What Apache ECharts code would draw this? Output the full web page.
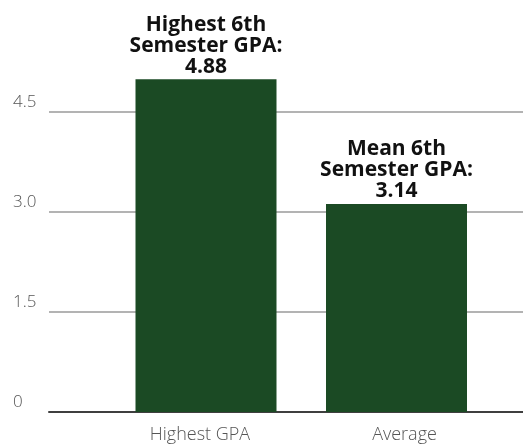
<!DOCTYPE html>
<html>
<head>
<meta charset="utf-8">
<script src="https://cdn.jsdelivr.net/npm/echarts@6/dist/echarts.min.js"></script>
<style>
html,body{margin:0;padding:0;background:#fff;}
#chart{width:523px;height:444px;}
</style>
</head>
<body>
<div id="chart"></div>
<script>
const categories = ['Highest GPA', 'Average'];
const barValues = [4.99, 3.12];
const barLabels = ['Highest 6th\nSemester GPA:\n4.88', 'Mean 6th\nSemester GPA:\n3.14'];
const yMin = 0, yMax = 6, yInterval = 1.5;

const chart = echarts.init(document.getElementById('chart'), null, {renderer: 'canvas'});
chart.setOption({
  animation: false,
  grid: [
    {left: 49, right: 0, top: 12, height: 400},
    {left: 110.75, right: 31.25, top: 12, height: 400}
  ],
  xAxis: [
    {gridIndex: 0, type: 'value', min: 0, max: 1,
      axisLine: {show: true, lineStyle: {color: '#3f3f3f', width: 2}},
      axisTick: {show: false}, axisLabel: {show: false}, splitLine: {show: false}},
    {gridIndex: 1, type: 'category',
      data: [
        {value: categories[0], textStyle: {padding: [0, 12, 0, 0]}},
        {value: categories[1], textStyle: {padding: [0, 0, 0, 16]}}
      ],
      axisLine: {show: false}, axisTick: {show: false},
      axisLabel: {color: '#555555', fontFamily: 'Open Sans', fontWeight: 300, fontSize: 18, margin: 14}}
  ],
  yAxis: [
    {gridIndex: 0, type: 'value', min: yMin, max: yMax, interval: yInterval,
      axisLine: {show: false}, axisTick: {show: false},
      axisLabel: {color: '#555555', fontFamily: 'Open Sans', fontWeight: 300, fontSize: 17, margin: 36,
        align: 'left', verticalAlign: 'bottom', lineHeight: 20, showMaxLabel: false,
        formatter: v => (v === 0 ? '0' : v.toFixed(1))},
      splitLine: {show: true, showMinLine: false, showMaxLine: false, lineStyle: {color: '#b3b3b3', width: 2}}},
    {gridIndex: 1, type: 'value', min: yMin, max: yMax, interval: yInterval, show: false}
  ],
  series: [{
    type: 'bar', xAxisIndex: 1, yAxisIndex: 1,
    data: barValues, barWidth: 141,
    itemStyle: {color: '#1b4a24'},
    label: {show: true, position: 'top', distance: 2,
      formatter: p => barLabels[p.dataIndex],
      fontFamily: 'Open Sans', fontWeight: 'bold', fontSize: 21, lineHeight: 21, color: '#111111'}
  }]
});
</script>
</body>
</html>
